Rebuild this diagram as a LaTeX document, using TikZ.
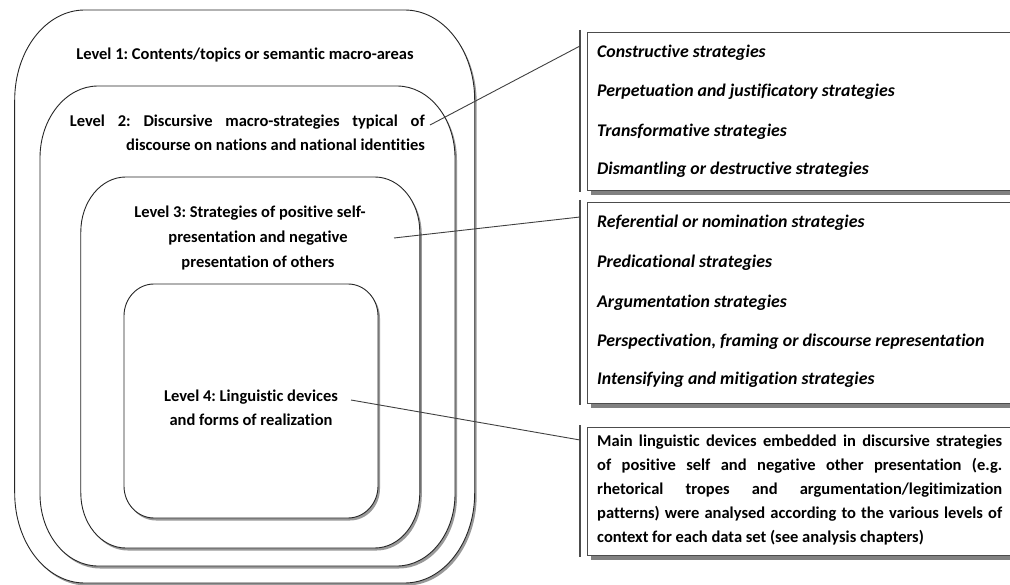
\documentclass[tikz,border=0pt]{standalone}
\usepackage{fontspec}
\setmainfont{Carlito}[Ligatures={NoCommon,TeX}]
\usetikzlibrary{shadows}
\frenchspacing
\newcommand{\txtsize}{\fontsize{16.5bp}{24bp}\selectfont\bfseries}
\newcommand{\itemsize}{\fontsize{17.8bp}{24bp}\selectfont\bfseries\itshape}
% rounded frame with elliptic corners around node #1 (x radius #2, y radius #3)
\newcommand{\ellframe}[3]{%
  \path[lvshape] ([xshift=#2]#1.north west) -- ([xshift=-#2]#1.north east)
    arc[start angle=90, end angle=0, x radius=#2, y radius=#3]
    -- ([yshift=#3]#1.south east)
    arc[start angle=0, end angle=-90, x radius=#2, y radius=#3]
    -- ([xshift=#2]#1.south west)
    arc[start angle=270, end angle=180, x radius=#2, y radius=#3]
    -- ([yshift=-#3]#1.north west)
    arc[start angle=180, end angle=90, x radius=#2, y radius=#3]
    -- cycle;}
\begin{document}
\begin{tikzpicture}[x=1bp,y=-1bp,
  lvarea/.style={inner sep=0pt, outer sep=0pt},
  lvshape/.style={draw=black!85, line width=0.9bp, fill=white,
    drop shadow={shadow xshift=2bp, shadow yshift=-2.5bp, fill=black!50, opacity=0.8}},
  listbox/.style={draw=black!70, line width=1.4bp, fill=white,
    drop shadow={shadow xshift=3bp, shadow yshift=-4bp, fill=black!55, opacity=0.9}},
  bar/.style={draw=black!70, line width=1.4bp},
  link/.style={draw=black!75, line width=0.9bp},
  lvtext/.style={font=\txtsize, inner sep=0pt, align=center},
  item/.style={font=\itemsize, inner sep=0pt, anchor=west},
]
\useasboundingbox (0,0) rectangle (1010,585);
\clip (0,0) rectangle (1010,585);

% nested levels, outermost first
\node[lvarea, minimum width=460bp, minimum height=573bp] (L1) at (244.7,296.5) {};
\node[lvarea, minimum width=415bp, minimum height=480bp] (L2) at (247.5,326) {};
\node[lvarea, minimum width=339bp, minimum height=371bp] (L3) at (250.3,362.5) {};
\node[lvarea, minimum width=254bp, minimum height=234bp] (L4) at (251,401) {};
\ellframe{L1}{70bp}{90bp}
\ellframe{L2}{58bp}{72bp}
\ellframe{L3}{45bp}{55bp}
\ellframe{L4}{30bp}{32bp}

% level captions
\node[lvtext] (T1) at (245,55) {Level 1: Contents/topics or semantic macro-areas};
\node[lvtext, align=right, anchor=north east] (T2) at (425,115)
  {\makebox[355bp][s]{Level 2: Discursive macro-strategies typical of}\\
   discourse on nations and national identities};
\node[lvtext] (T3a) at (250,213) {Level 3: Strategies of positive self-};
\node[lvtext] (T3b) at (258,238) {presentation and negative};
\node[lvtext] (T3c) at (258,263) {presentation of others};
\node[lvtext] (T4) at (251,408)
  {Level 4: Linguistic devices\\ and forms of realization};

% strategy lists on the right
\node[listbox, minimum width=430bp, minimum height=158bp, anchor=north west] (A) at (587,32) {};
\node[listbox, minimum width=430bp, minimum height=201bp, anchor=north west] (B) at (587,202) {};
\node[listbox, minimum width=430bp, minimum height=128bp, anchor=north west] (C) at (587,427) {};

\coordinate (a1) at (580,30);  \coordinate (a2) at (580,192);
\coordinate (b1) at (580,200); \coordinate (b2) at (580,405);
\coordinate (c1) at (580,425); \coordinate (c2) at (580,557);
\draw[bar] (a1) -- (a2);
\draw[bar] (b1) -- (b2);
\draw[bar] (c1) -- (c2);

\node[item] (A1) at (597,53)  {Constructive strategies};
\node[item] (A2) at (597,92)  {Perpetuation and justificatory strategies};
\node[item] (A3) at (597,132) {Transformative strategies};
\node[item] (A4) at (597,170) {Dismantling or destructive strategies};

\node[item] (B1) at (597,223) {Referential or nomination strategies};
\node[item] (B2) at (597,263) {Predicational strategies};
\node[item] (B3) at (597,303) {Argumentation strategies};
\node[item] (B4) at (597,342) {Perspectivation, framing or discourse representation};
\node[item] (B5) at (597,380) {Intensifying and mitigation strategies};

\node[font=\txtsize, inner sep=0pt, text width=405bp, align=justify, anchor=north west] (C1) at (597,435)
  {Main linguistic devices embedded in discursive strategies\linebreak
   of positive self and negative other presentation (e.g.\linebreak
   rhetorical tropes and argumentation/legitimization\linebreak
   patterns) were analysed according to the various levels of\linebreak
   context for each data set (see analysis chapters)};

% connectors from each level to its list
\coordinate (s2) at (430,125);
\coordinate (s3) at (394,238);
\coordinate (s4) at (351,400);
\coordinate (e2) at (580,46);
\coordinate (e3) at (580,217);
\coordinate (e4) at (580,440);
\draw[link] (s2) -- (e2);
\draw[link] (s3) -- (e3);
\draw[link] (s4) -- (e4);
\end{tikzpicture}
\end{document}
